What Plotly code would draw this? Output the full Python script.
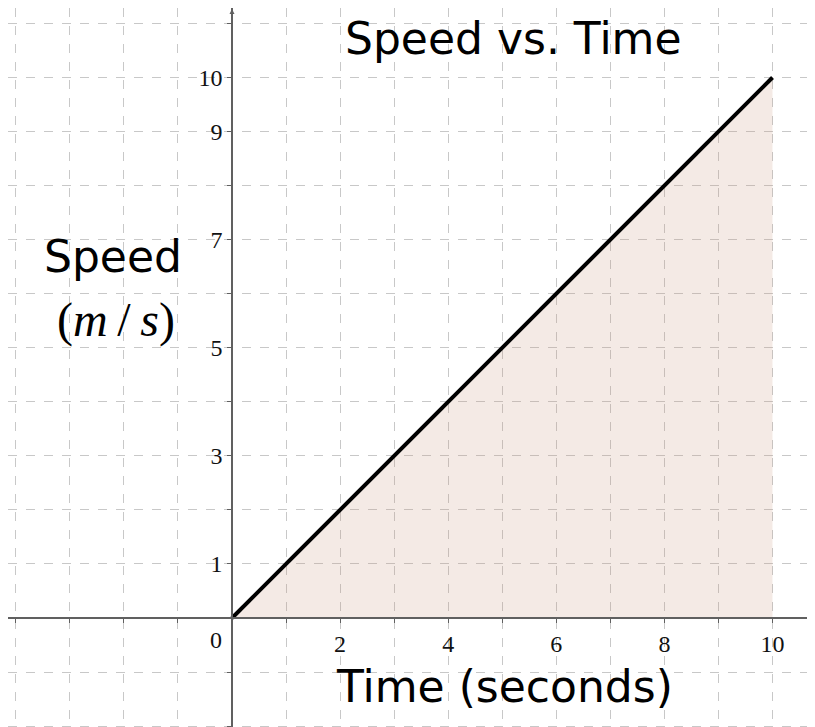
import plotly.graph_objects as go

# Data
time_s = [0, 10]
speed_ms = [0, 10]

x_tick_vals = list(range(-4, 12))
x_tick_text = [str(v) if v in (2, 4, 6, 8, 10) else "" for v in x_tick_vals]
y_tick_vals = list(range(-2, 12))
y_tick_text = [str(v) if v in (1, 3, 5, 7, 9, 10) else "" for v in y_tick_vals]

title_text = "Speed vs. Time"
x_label = "Time (seconds)"
y_label_1 = "Speed"
y_label_2 = "(<i>m</i>\u2009/\u2009<i>s</i>)"

W, H = 815, 727
OFF = 8  # page body margin
PX = 54.05  # pixels per unit
ox, oy = 232 - OFF, 618 - OFF  # origin in figure pixels
x_range = [-ox / PX, (W - ox) / PX]
y_range = [-(H - oy) / PX, oy / PX]

x_pos = (0 - x_range[0]) / (x_range[1] - x_range[0])
y_pos = (0 - y_range[0]) / (y_range[1] - y_range[0])

fig = go.Figure()
fig.add_trace(go.Scatter(
    x=time_s, y=speed_ms, mode="lines",
    line=dict(color="black", width=4),
    fill="tozeroy", fillcolor="rgba(200,150,125,0.2)",
    hoverinfo="skip", showlegend=False,
))

axis_common = dict(
    showgrid=True, gridcolor="#c8c8c8", griddash="dash", gridwidth=1,
    zeroline=False, showline=True, linecolor="#606060", linewidth=1.5,
    ticks="outside", ticklen=4, tickcolor="#606060", tickwidth=1,
    tickfont=dict(family="Liberation Serif", size=24, color="#111"),
    automargin=False,
)

fig.update_xaxes(range=x_range, tickvals=x_tick_vals, ticktext=x_tick_text,
                 anchor="free", position=y_pos, **axis_common)
fig.update_yaxes(range=y_range, tickvals=y_tick_vals, ticktext=y_tick_text,
                 anchor="free", position=x_pos, **axis_common)


def px(xp, yp):
    return (xp - OFF) / W, 1 - (yp - OFF) / H


sans = dict(family="DejaVu Sans", size=44, color="black")
tx, ty = px(513, 38)
lx, ly = px(504, 686)
s1x, s1y = px(113, 256)
s2x, s2y = px(116, 320)
ax_, ay_ = px(232, 5)
ann = [
    dict(text=title_text, xref="paper", yref="paper", x=tx, y=ty,
         showarrow=False, font=sans, xanchor="center", yanchor="middle"),
    dict(text=x_label, xref="paper", yref="paper", x=lx, y=ly,
         showarrow=False, font=sans, xanchor="center", yanchor="middle"),
    dict(text=y_label_1, xref="paper", yref="paper", x=s1x, y=s1y,
         showarrow=False, font=sans, xanchor="center", yanchor="middle"),
    dict(text=y_label_2, xref="paper", yref="paper", x=s2x, y=s2y,
         showarrow=False, font=dict(family="Liberation Serif", size=48, color="black"),
         xanchor="center", yanchor="middle"),
    dict(text="0", xref="x", yref="y", x=0, y=0, xshift=-16, yshift=-22,
         showarrow=False, font=dict(family="Liberation Serif", size=24, color="#111"),
         xanchor="center", yanchor="middle"),
    dict(text="", xref="x", yref="paper", x=0, y=ay_, ax=0, ay=10,
         showarrow=True, arrowhead=2, arrowsize=1, arrowwidth=1, arrowcolor="#606060"),
]

fig.update_layout(
    width=W, height=H, margin=dict(l=0, r=0, t=0, b=0),
    paper_bgcolor="white", plot_bgcolor="white",
    annotations=ann, showlegend=False,
)

fig.write_html("out.html")
